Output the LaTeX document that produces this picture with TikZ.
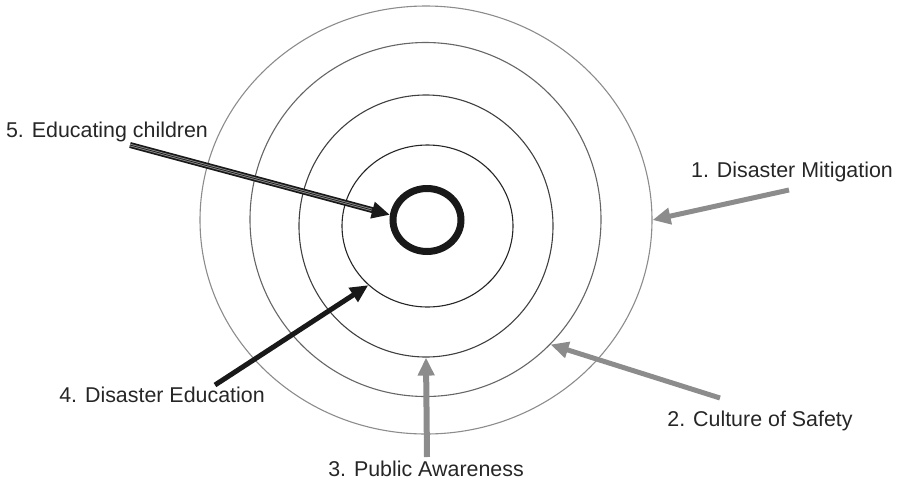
\documentclass[tikz,border=0pt]{standalone}
\usepackage{fontspec}
\setmainfont{Liberation Sans}
\usetikzlibrary{shapes.geometric, arrows.meta, positioning}

\begin{document}
\begin{tikzpicture}[x=1pt, y=-1pt, >={Triangle[length=18pt, width=16pt]}, font=\fontsize{21.4}{25}\selectfont,
  lbl/.style={text=black!85, inner sep=0pt},
  ring/.style={draw, ellipse, inner sep=0pt, line width=1.1pt},
  greyarrow/.style={->, draw=black!45, fill=black!45, line width=5pt},
  darkarrow/.style={->, draw=black!90, fill=black!90, line width=5pt}]
\useasboundingbox (0,0) rectangle (898,483);
% rings
\node[ring, draw=black!45, minimum width=452pt, minimum height=428pt] (r4) at (426,220) {};
\node[ring, draw=black!60, minimum width=351pt, minimum height=354pt] (r3) at (425.5,219.5) {};
\node[ring, draw=black!75, minimum width=254pt, minimum height=262pt] (r2) at (426,226) {};
\node[ring, draw=black!85, minimum width=171pt, minimum height=162pt] (r1) at (427.5,226) {};
\node[draw=black!90, ellipse, inner sep=0pt, line width=7pt, minimum width=68pt, minimum height=63pt] (core) at (427,220) {};
% labels
\node[lbl] (l1) at (792,172) {1. Disaster Mitigation};
\node[lbl] (l2) at (760,421) {2. Culture of Safety};
\node[lbl] (l3) at (426,469) {3. Public Awareness};
\node[lbl] (l4) at (162,395) {4. Disaster Education};
\node[lbl] (l5) at (107,132) {5. Educating children};
% arrow tails
\coordinate (t1) at (789,190);
\coordinate (t2) at (720,398);
\coordinate (t3) at (427,457);
\coordinate (t4) at (215,385);
\coordinate (t5) at (130,145);
% arrows
\draw[greyarrow] (t1) -- (r4.east);
\draw[greyarrow] (t2) -- (r3.-45);
\draw[greyarrow, line width=6pt] (t3) -- (r2.south);
\draw[darkarrow] (t4) -- (r1.225);
\draw[darkarrow, line width=6pt] (t5) -- (core.172);
\draw[black!45, line width=2.5pt, shorten >=19pt] (t5) -- (core.172);
\draw[black!90, line width=0.7pt, shorten >=19pt] (t5) -- (core.172);
\end{tikzpicture}
\end{document}
